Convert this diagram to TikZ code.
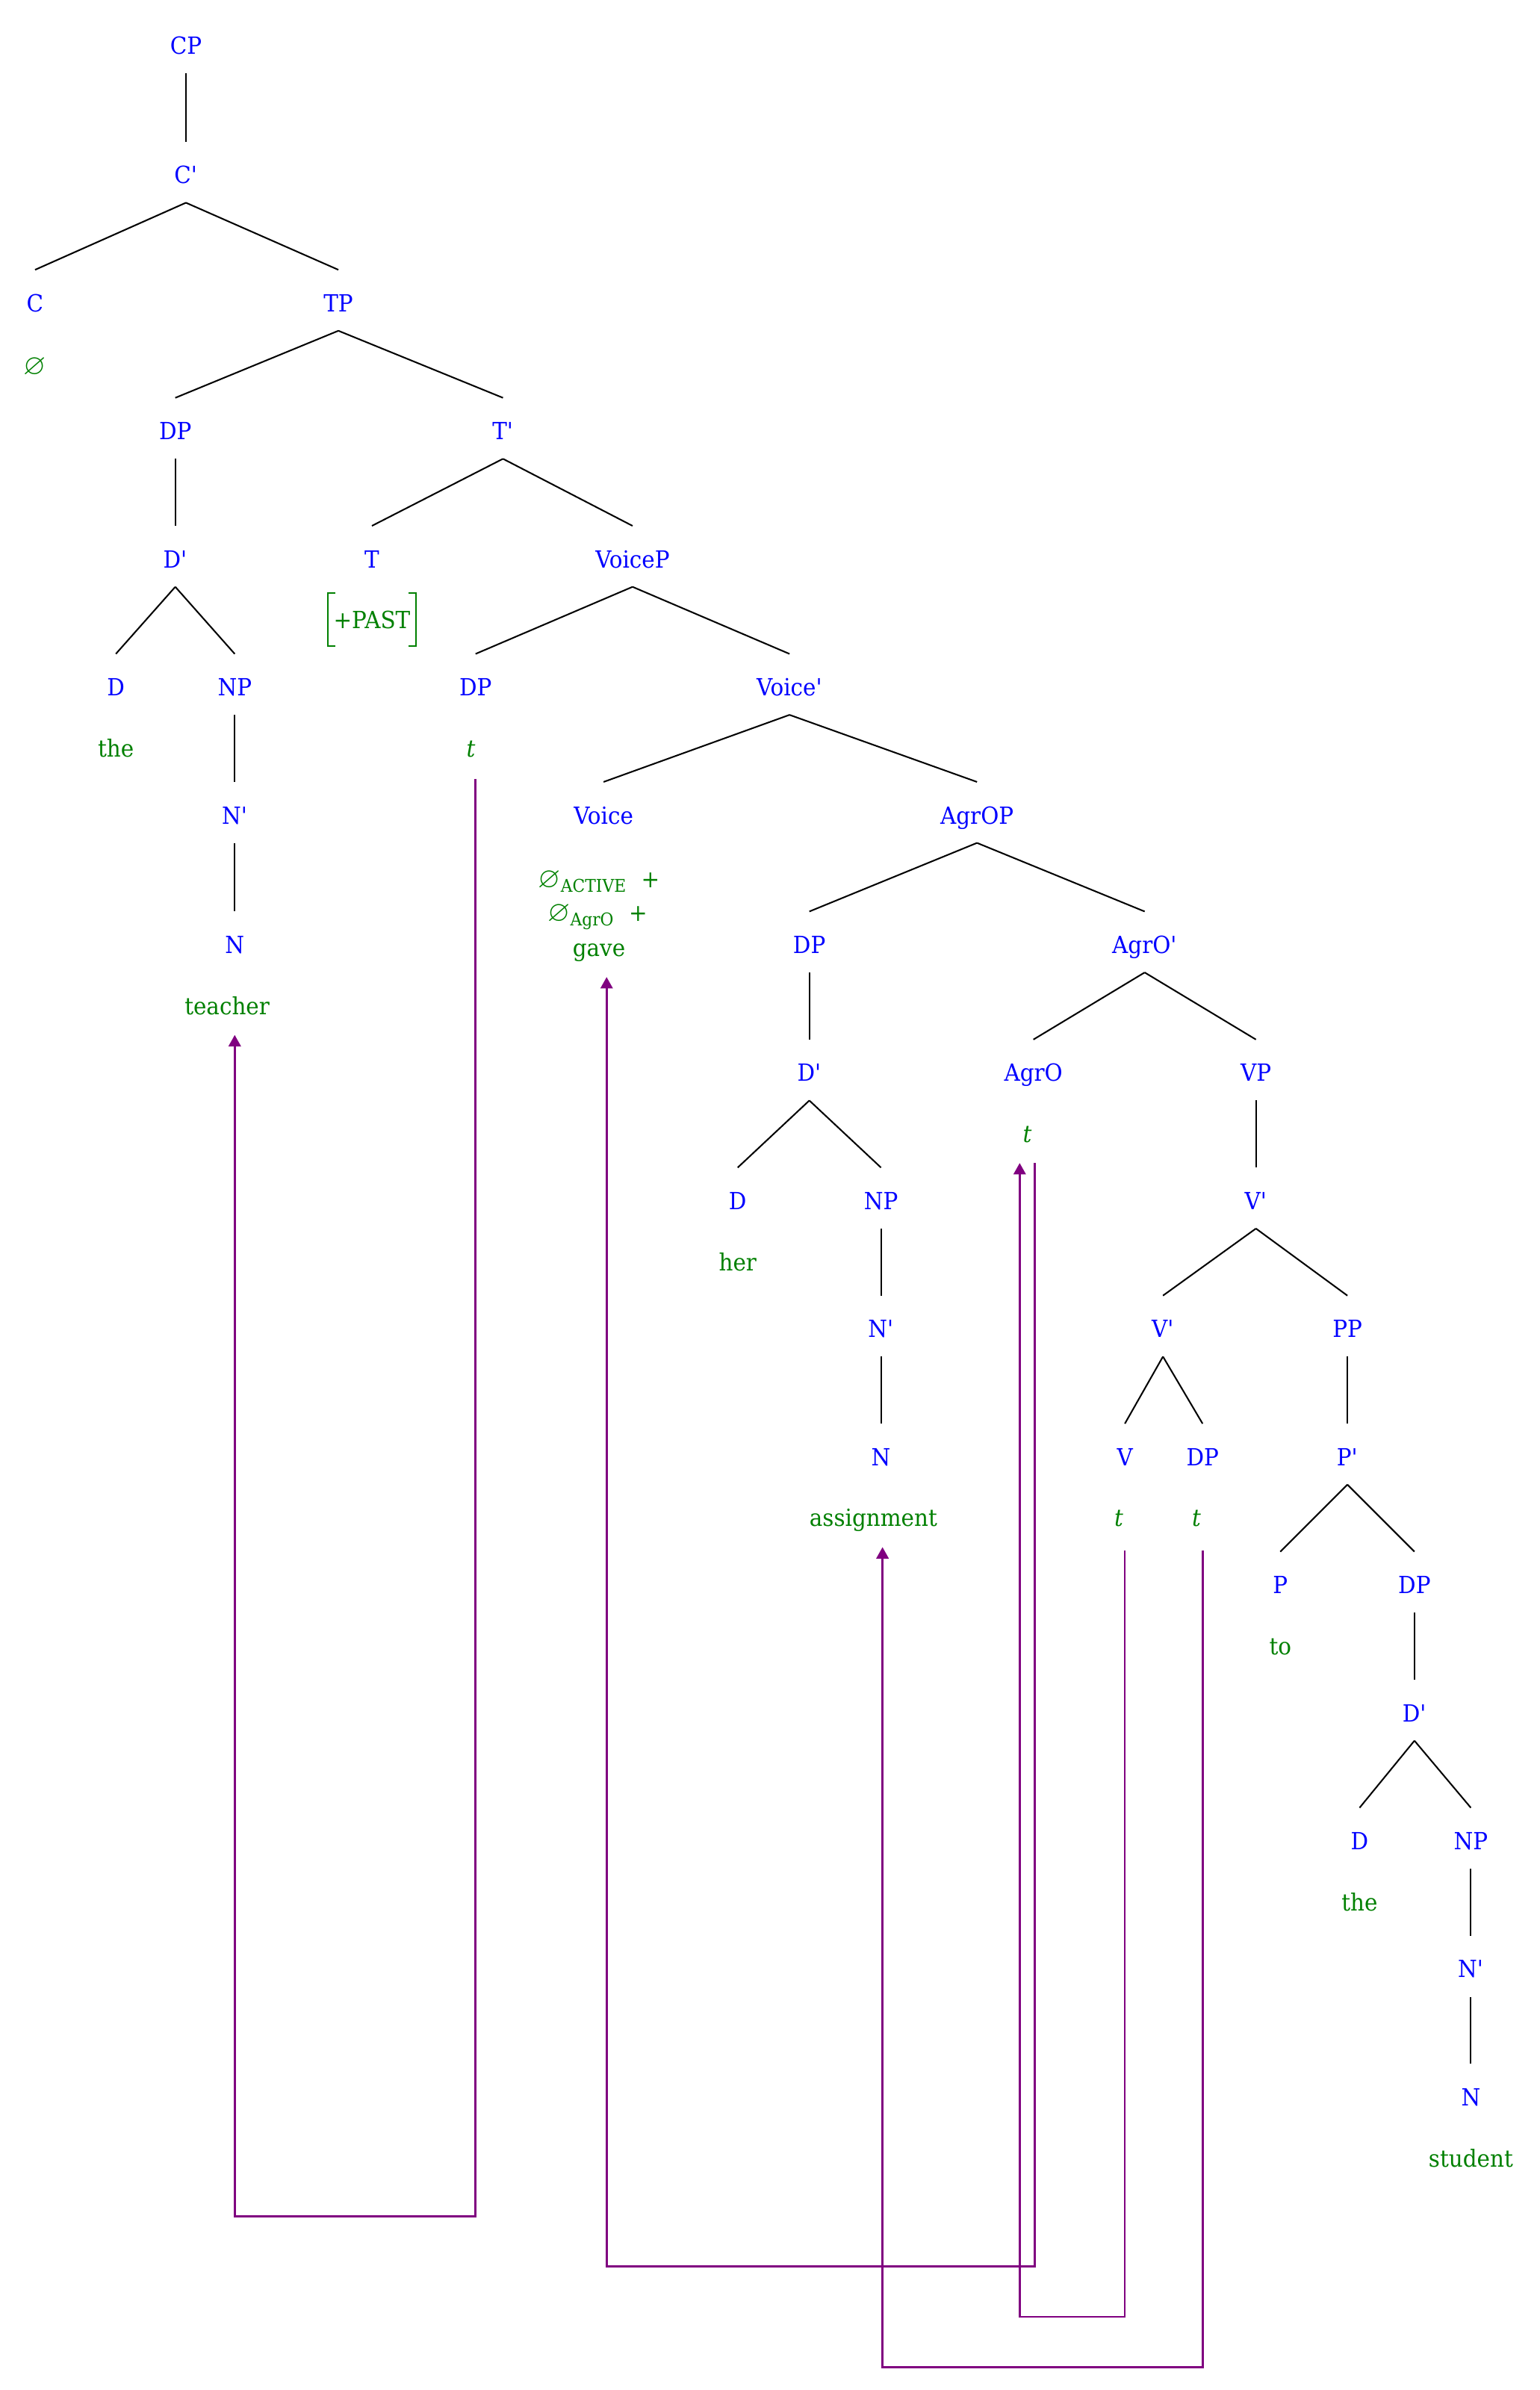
\documentclass[tikz,border=0pt]{standalone}
\usepackage{fontspec}
\usepackage{amssymb}
\setmainfont{DejaVu Serif}[FakeStretch=0.93]
\usetikzlibrary{arrows.meta,calc}
\definecolor{catblue}{RGB}{0,0,255}
\definecolor{lexgreen}{RGB}{0,128,0}
\definecolor{mvpurple}{RGB}{128,0,128}
\newcommand\treeedge[2]{\draw[edge] ([yshift=-18pt]#1.center) -- ([yshift=22pt]#2.center);}
\newcommand\nullsym{{\fontsize{19}{19}\selectfont$\varnothing$}}
\newcommand\prm{\textquotesingle}
\begin{document}
\begin{tikzpicture}[x=1pt,y=-1pt,
  cat/.style={text=catblue,font=\fontsize{15.5}{18}\selectfont,inner sep=0pt,text height=11pt,text depth=0pt},
  lex/.style={text=lexgreen,font=\fontsize{15.5}{18}\selectfont,inner sep=0pt,text height=11pt,text depth=0pt},
  edge/.style={line width=1pt,black},
  brk/.style={line width=1pt,lexgreen},
  mv/.style={line width=1.3pt,mvpurple,-{Triangle[width=8pt,length=7.5pt]}}]
\useasboundingbox (0,0) rectangle (1010,1568);
% categories
\node[cat] (CP) at (122,30) {CP};
\node[cat] (Cb) at (122,115) {C\prm};
\node[cat] (C) at (23,199) {C};
\node[cat] (TP) at (222,199) {TP};
\node[cat] (DPa) at (115,283) {DP};
\node[cat] (Tb) at (330,283) {T\prm};
\node[cat] (Dba) at (115,367) {D\prm};
\node[cat] (T) at (244,367) {T};
\node[cat] (VoiceP) at (415,367) {VoiceP};
\node[cat] (Da) at (76,451) {D};
\node[cat] (NPa) at (154,451) {NP};
\node[cat] (DPb) at (312,451) {DP};
\node[cat] (Voiceb) at (518,451) {Voice\prm};
\node[cat] (Nba) at (154,535) {N\prm};
\node[cat] (Voice) at (396,535) {Voice};
\node[cat] (AgrOP) at (641,535) {AgrOP};
\node[cat] (Na) at (154,620) {N};
\node[cat] (DPc) at (531,620) {DP};
\node[cat] (AgrOb) at (751,620) {AgrO\prm};
\node[cat] (Dbc) at (531,704) {D\prm};
\node[cat] (AgrO) at (678,704) {AgrO};
\node[cat] (VP) at (824,704) {VP};
\node[cat] (Dc) at (484,788) {D};
\node[cat] (NPc) at (578,788) {NP};
\node[cat] (Vb) at (824,788) {V\prm};
\node[cat] (Nbc) at (578,872) {N\prm};
\node[cat] (Vbb) at (763,872) {V\prm};
\node[cat] (PP) at (884,872) {PP};
\node[cat] (Nc) at (578,956) {N};
\node[cat] (V) at (738,956) {V};
\node[cat] (DPd) at (789,956) {DP};
\node[cat] (Pb) at (884,956) {P\prm};
\node[cat] (P) at (840,1040) {P};
\node[cat] (DPe) at (928,1040) {DP};
\node[cat] (Dbe) at (928,1124) {D\prm};
\node[cat] (De) at (892,1208) {D};
\node[cat] (NPe) at (965,1208) {NP};
\node[cat] (Nbe) at (965,1292) {N\prm};
\node[cat] (Ne) at (965,1376) {N};
% lexical items
\node[lex] (nullC) at (23,240) {\nullsym};
\node[lex] (PAST) at (244,407) {+PAST};
\node[lex] (thea) at (76,491) {the};
\node[lex] (tb) at (309,491) {\itshape t};
\node[lex] (act) at (393,577) {\nullsym\raisebox{-3pt}{\fontsize{11.5}{12}\selectfont ACTIVE}\hspace{10pt}+};
\node[lex] (agr) at (392,599) {\nullsym\raisebox{-3pt}{\fontsize{11.5}{12}\selectfont AgrO}\hspace{10pt}+};
\node[lex] (gave) at (393,622) {gave};
\node[lex] (teacher) at (149,660) {teacher};
\node[lex] (tAgrO) at (674,744) {\itshape t};
\node[lex] (her) at (484,828) {her};
\node[lex] (assignment) at (573,996) {assignment};
\node[lex] (tV) at (734,996) {\itshape t};
\node[lex] (tD) at (785,996) {\itshape t};
\node[lex] (to) at (840,1080) {to};
\node[lex] (thee) at (892,1248) {the};
\node[lex] (student) at (965,1416) {student};
% brackets round +PAST
\draw[brk] ($(PAST.center)+(-24,-18)$) -- ++(-5,0) -- ++(0,35) -- ++(5,0);
\draw[brk] ($(PAST.center)+(24,-18)$) -- ++(5,0) -- ++(0,35) -- ++(-5,0);
% tree edges
\treeedge{CP}{Cb}
\treeedge{Cb}{C}
\treeedge{Cb}{TP}
\treeedge{TP}{DPa}
\treeedge{TP}{Tb}
\treeedge{DPa}{Dba}
\treeedge{Dba}{Da}
\treeedge{Dba}{NPa}
\treeedge{NPa}{Nba}
\treeedge{Nba}{Na}
\treeedge{Tb}{T}
\treeedge{Tb}{VoiceP}
\treeedge{VoiceP}{DPb}
\treeedge{VoiceP}{Voiceb}
\treeedge{Voiceb}{Voice}
\treeedge{Voiceb}{AgrOP}
\treeedge{AgrOP}{DPc}
\treeedge{AgrOP}{AgrOb}
\treeedge{DPc}{Dbc}
\treeedge{Dbc}{Dc}
\treeedge{Dbc}{NPc}
\treeedge{NPc}{Nbc}
\treeedge{Nbc}{Nc}
\treeedge{AgrOb}{AgrO}
\treeedge{AgrOb}{VP}
\treeedge{VP}{Vb}
\treeedge{Vb}{Vbb}
\treeedge{Vb}{PP}
\treeedge{Vbb}{V}
\treeedge{Vbb}{DPd}
\treeedge{PP}{Pb}
\treeedge{Pb}{P}
\treeedge{Pb}{DPe}
\treeedge{DPe}{Dbe}
\treeedge{Dbe}{De}
\treeedge{Dbe}{NPe}
\treeedge{NPe}{Nbe}
\treeedge{Nbe}{Ne}
% movement arrows
\coordinate (bA) at (0,1454);
\coordinate (bB) at (0,1487);
\coordinate (bC) at (0,1520);
\coordinate (bD) at (0,1553);
\coordinate (sA) at ([xshift=3pt,yshift=-20pt]tb.center);
\coordinate (sB) at ([xshift=5pt,yshift=-19pt]tAgrO.center);
\coordinate (sC) at ([xshift=4pt,yshift=-21pt]tV.center);
\coordinate (sD) at ([xshift=4pt,yshift=-21pt]tD.center);
\draw[mv] (sA) -- (sA |- bA) -| ([xshift=5pt,yshift=-19pt]teacher.center);
\draw[mv] (sB) -- (sB |- bB) -| ([xshift=5pt,yshift=-19pt]gave.center);
\draw[mv] (sC) -- (sC |- bC) -| ([xshift=-5pt,yshift=-19pt]tAgrO.center);
\draw[mv] (sD) -- (sD |- bD) -| ([xshift=6pt,yshift=-19pt]assignment.center);
\end{tikzpicture}
\end{document}
